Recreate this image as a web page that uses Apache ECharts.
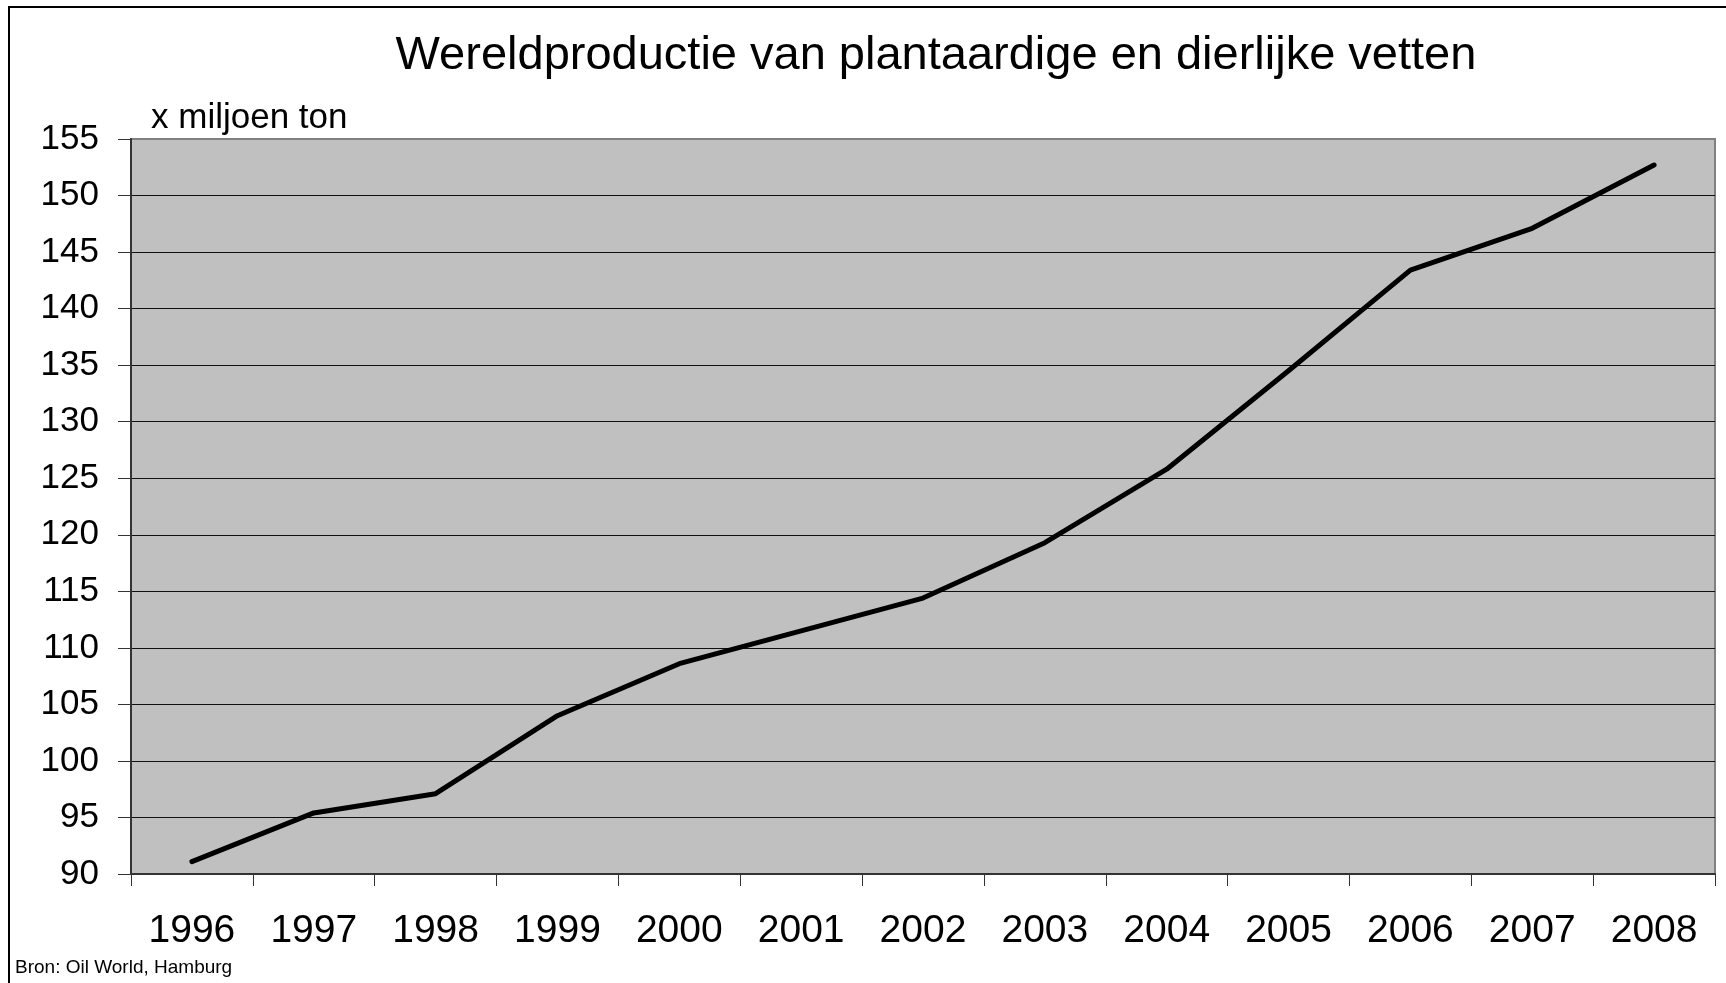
<!DOCTYPE html>
<html>
<head>
<meta charset="utf-8">
<title>Wereldproductie van plantaardige en dierlijke vetten</title>
<script src="https://cdn.jsdelivr.net/npm/echarts@6/dist/echarts.min.js"></script>
<style>
  html, body { margin: 0; padding: 0; background: #ffffff; }
  #chart { width: 1726px; height: 983px; }
</style>
</head>
<body>
<div id="chart"></div>
<script>
// jaren en productie (x miljoen ton)
var years = ['1996', '1997', '1998', '1999', '2000', '2001', '2002',
  '2003', '2004', '2005', '2006', '2007', '2008']
var production = [91.1, 95.4, 97.1, 104.0, 108.6, 111.5, 114.4,
  119.3, 125.8, 134.5, 143.4, 147.1, 152.7]

var titleText = 'Wereldproductie van plantaardige en dierlijke vetten'
var unitText = 'x miljoen ton'
var sourceText = 'Bron: Oil World, Hamburg'

var font = '"Liberation Sans", Arial, sans-serif'

// gridline colours: top line (155) is the grey plot border
var gridColors = []
for (var i = 0; i < 14; i++) {
  gridColors.push(i === 13 ? '#808080' : '#111111')
}

var myChart = echarts.init(document.getElementById('chart'))
myChart.setOption({
  animation: false,
  backgroundColor: '#ffffff',
  textStyle: { fontFamily: font },
  grid: {
    left: 131,
    right: 11,
    top: 139,
    bottom: 109,
    show: true,
    backgroundColor: '#c0c0c0',
    borderColor: '#808080',
    borderWidth: 2
  },
  graphic: [
    {
      type: 'rect',
      z: -10,
      shape: { x: 9, y: 7, width: 1800, height: 1000 },
      style: { fill: null, stroke: '#000000', lineWidth: 2 }
    },
    {
      type: 'text',
      x: 936,
      y: 56,
      style: {
        text: titleText,
        fontSize: 47,
        fontFamily: font,
        fill: '#000000',
        align: 'center',
        verticalAlign: 'middle'
      }
    },
    {
      type: 'text',
      x: 151,
      y: 118,
      style: {
        text: unitText,
        fontSize: 35,
        fontFamily: font,
        fill: '#000000',
        align: 'left',
        verticalAlign: 'middle'
      }
    },
    {
      type: 'text',
      x: 15,
      y: 968,
      style: {
        text: sourceText,
        fontSize: 19,
        fontFamily: font,
        fill: '#000000',
        align: 'left',
        verticalAlign: 'middle'
      }
    }
  ],
  xAxis: {
    type: 'category',
    data: years,
    boundaryGap: true,
    axisLine: { show: true, lineStyle: { color: '#333333', width: 2 } },
    axisTick: {
      show: true,
      interval: 0,
      alignWithLabel: false,
      length: 12,
      lineStyle: { color: '#333333', width: 1 }
    },
    axisLabel: {
      interval: 0,
      margin: 38,
      fontSize: 39,
      fontFamily: font,
      color: '#000000'
    },
    splitLine: { show: false }
  },
  yAxis: {
    type: 'value',
    min: 90,
    max: 155,
    interval: 5,
    axisLine: { show: true, lineStyle: { color: '#333333', width: 2 } },
    axisTick: {
      show: true,
      length: 13,
      lineStyle: { color: '#333333', width: 1 }
    },
    axisLabel: {
      margin: 32,
      fontSize: 35,
      fontFamily: font,
      color: '#000000'
    },
    splitLine: { show: true, lineStyle: { color: gridColors, width: 1 } }
  },
  series: [{
    name: 'productie',
    type: 'line',
    data: production,
    showSymbol: false,
    symbol: 'none',
    lineStyle: { color: '#000000', width: 5, cap: 'round', join: 'round' },
    itemStyle: { color: '#000000' }
  }]
})
</script>
</body>
</html>
